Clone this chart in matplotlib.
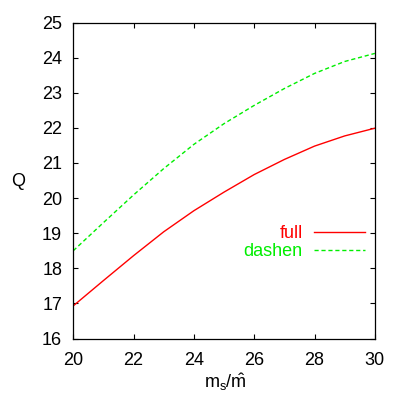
import numpy as np
import matplotlib
matplotlib.use("Agg")
import matplotlib.pyplot as plt

# values
ms_ratio = [20, 21, 22, 23, 24, 25, 26, 27, 28, 29, 30]
q_full = [16.93, 17.65, 18.36, 19.04, 19.64, 20.17, 20.67, 21.10, 21.48, 21.77, 21.99]
q_dashen = [18.50, 19.30, 20.09, 20.84, 21.53, 22.12, 22.64, 23.12, 23.55, 23.89, 24.12]
x_ticks = [20, 22, 24, 26, 28, 30]
y_ticks = [16, 17, 18, 19, 20, 21, 22, 23, 24, 25]

plt.rcParams['font.family'] = ['Liberation Sans', 'DejaVu Sans']
plt.rcParams['font.size'] = 13
plt.rcParams['mathtext.fontset'] = 'custom'
plt.rcParams['mathtext.rm'] = 'Liberation Sans'
plt.rcParams['mathtext.it'] = 'Liberation Sans'

fig = plt.figure(figsize=(4.07, 3.95), dpi=100)
ax = fig.add_axes([0.180, 0.143, 0.741, 0.800])

ax.plot(ms_ratio, q_full, color='#ff0000', lw=1.0, label='full')
ax.plot(ms_ratio, q_dashen, color='#00ee00', lw=1.0, dashes=(3, 2), label='dashen')

ax.set_xlim(20, 30)
ax.set_ylim(16, 25)
ax.set_xticks(x_ticks)
ax.set_yticks(y_ticks)
ax.tick_params(direction='in', length=3.5, width=0.8, top=True, right=True)
ax.tick_params(axis='x', pad=10)
ax.tick_params(axis='y', pad=8)
for s in ax.spines.values():
    s.set_linewidth(0.9)

ax.set_xlabel(r'$\mathrm{m_s/\hat{m}}$')
ax.xaxis.set_label_coords(0.505, -0.105)
ax.set_ylabel('Q', rotation=0, ha='center', va='center')
ax.yaxis.set_label_coords(-0.183, 0.498)

ax.legend(loc='center right', bbox_to_anchor=(0.967, 0.304), frameon=False,
          markerfirst=False, handlelength=2.8, handletextpad=0.64,
          labelspacing=0.05, borderpad=0, borderaxespad=0,
          labelcolor='linecolor')

fig.savefig('out.png', dpi=100)
